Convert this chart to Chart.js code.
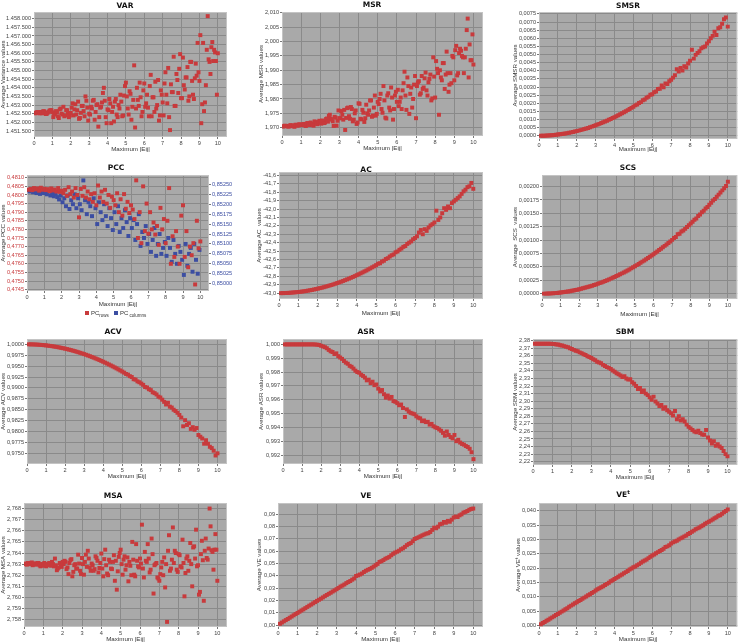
<!DOCTYPE html>
<html><head><meta charset="utf-8">
<script src="https://cdn.jsdelivr.net/npm/chart.js@4.4.0/dist/chart.umd.min.js"></script>
<style>
html,body{margin:0;padding:0;background:#fff;}
#wrap{position:relative;width:740px;height:644px;overflow:hidden;}
#wrap canvas{position:absolute;}
.ttl{position:absolute;font:bold 7.5px "DejaVu Sans";color:#111;white-space:nowrap;transform:translate(-50%,-50%);}
.ttl sup{font-size:5.5px;}
.lg{position:absolute;font:6px "Liberation Sans";color:#333;white-space:nowrap;line-height:8px;}
.lg i{display:inline-block;width:4px;height:4px;margin:0 2px 0 0;vertical-align:middle;}
.lg sub{font-size:4.5px;}
</style></head><body><div id="wrap"></div>
<script>
// ---------- X values (Maximum |Eij|) ----------
const maxE = [0.1,0.2,0.3,0.4,0.5,0.6,0.7,0.8,0.9,1.0,1.1,1.2,1.3,1.4,1.5,1.6,1.7,1.8,1.9,2.0,
2.1,2.2,2.3,2.4,2.5,2.6,2.7,2.8,2.9,3.0,3.1,3.2,3.3,3.4,3.5,3.6,3.7,3.8,3.9,4.0,
4.1,4.2,4.3,4.4,4.5,4.6,4.7,4.8,4.9,5.0,5.1,5.2,5.3,5.4,5.5,5.6,5.7,5.8,5.9,6.0,
6.1,6.2,6.3,6.4,6.5,6.6,6.7,6.8,6.9,7.0,7.1,7.2,7.3,7.4,7.5,7.6,7.7,7.8,7.9,8.0,
8.1,8.2,8.3,8.4,8.5,8.6,8.7,8.8,8.9,9.0,9.1,9.2,9.3,9.4,9.5,9.6,9.7,9.8,9.9,10.0];
const maxEB = [0.05,0.15,0.25,0.35,0.45,0.55,0.65,0.75,0.85,0.95,1.05,1.15,1.25,1.35,1.45,1.55,1.65,1.75,1.85,1.95,
2.05,2.15,2.25,2.35,2.45,2.55,2.65,2.75,2.85,2.95,3.05,3.15,3.25,3.35,3.45,3.55,3.65,3.75,3.85,3.95,
4.05,4.15,4.25,4.35,4.45,4.55,4.65,4.75,4.85,4.95,5.05,5.15,5.25,5.35,5.45,5.55,5.65,5.75,5.85,5.95,
6.05,6.15,6.25,6.35,6.45,6.55,6.65,6.75,6.85,6.95,7.05,7.15,7.25,7.35,7.45,7.55,7.65,7.75,7.85,7.95,
8.05,8.15,8.25,8.35,8.45,8.55,8.65,8.75,8.85,8.95,9.05,9.15,9.25,9.35,9.45,9.55,9.65,9.75,9.85,9.95];
const xTicks = [0,1,2,3,4,5,6,7,8,9,10];

// ---------- VAR ----------
const varA = [1452550,1452600,1452520,1452580,1452640,1452560,1452500,1452620,1452700,1452580,
1452450,1452650,1452350,1452750,1452500,1452900,1452400,1452700,1452300,1452550,
1453100,1452750,1452450,1453200,1452250,1452950,1452650,1453500,1452850,1452500,
1452900,1453250,1452150,1453000,1451750,1452850,1453150,1454000,1452300,1452750,
1453350,1451950,1452900,1453200,1452450,1453000,1453600,1452350,1453550,1454300,
1452800,1453800,1452150,1453300,1451700,1454000,1452950,1453450,1452600,1454250,
1453100,1452850,1454100,1452350,1453450,1454350,1453000,1452100,1453850,1453150,
1454250,1453600,1455150,1451550,1453750,1455800,1452950,1454450,1455100,1453400,
1455750,1453900,1454600,1453250,1455500,1454400,1453350,1455400,1456600,1454400,
1451950,1456600,1453150,1456200,1455650,1454800,1456650,1456200,1455550,1456000];
const varB = [1452520,1452580,1452560,1452600,1452520,1452640,1452480,1452560,1452680,1452700,
1452300,1452550,1452600,1452250,1452800,1452450,1452350,1452700,1452500,1452400,
1452850,1452400,1453050,1452700,1452200,1452550,1452950,1452350,1453250,1452100,
1452450,1452800,1453300,1452600,1453050,1452300,1452900,1453700,1453250,1451950,
1452700,1453100,1452600,1452050,1453350,1452300,1452800,1453200,1452400,1454100,
1453500,1452450,1453650,1452900,1455300,1452800,1453300,1454300,1452350,1453850,
1452900,1453600,1452350,1454750,1453450,1452600,1452800,1454450,1452400,1453600,
1452400,1454900,1453100,1452300,1454200,1453750,1452950,1454800,1453700,1455950,
1453400,1454150,1454600,1455200,1453500,1455500,1453600,1454550,1454700,1454900,
1457050,1453050,1452650,1454150,1458150,1455500,1456350,1455550,1456050,1453600];
const varTicks = [1451500,1452000,1452500,1453000,1453500,1454000,1454500,1455000,1455500,1456000,1456500,1457000,1457500,1458000];

// ---------- MSR ----------
const msrA = [1.9705,1.9706,1.9704,1.9707,1.9705,1.9708,1.9710,1.9707,1.9712,1.9709,
1.9712,1.9708,1.9715,1.9711,1.9718,1.9710,1.9722,1.9714,1.9720,1.9717,
1.9725,1.9716,1.9730,1.9721,1.9745,1.9728,1.9706,1.9735,1.9724,1.9733,
1.9758,1.9728,1.9692,1.9768,1.9740,1.9772,1.9722,1.9750,1.9713,1.9785,
1.9731,1.9762,1.9720,1.9780,1.9745,1.9795,1.9738,1.9770,1.9742,1.9790,
1.9800,1.9765,1.9845,1.9735,1.9812,1.9770,1.9840,1.9728,1.9812,1.9790,
1.9775,1.9805,1.9830,1.9895,1.9762,1.9845,1.9818,1.9770,1.9850,1.9733,
1.9858,1.9815,1.9880,1.9840,1.9892,1.9812,1.9870,1.9795,1.9945,1.9805,
1.9905,1.9745,1.9875,1.9925,1.9835,1.9965,1.9825,1.9890,1.9950,1.9865,
1.9985,1.9890,1.9975,1.9950,1.9890,1.9975,2.0080,1.9990,1.9935,1.9920];
const msrB = [1.9704,1.9707,1.9706,1.9704,1.9709,1.9706,1.9703,1.9710,1.9708,1.9711,
1.9709,1.9713,1.9706,1.9716,1.9709,1.9713,1.9707,1.9719,1.9712,1.9724,
1.9714,1.9722,1.9718,1.9732,1.9741,1.9731,1.9722,1.9738,1.9707,1.9760,
1.9733,1.9745,1.9762,1.9734,1.9770,1.9731,1.9765,1.9728,1.9760,1.9718,
1.9783,1.9729,1.9752,1.9733,1.9750,1.9760,1.9795,1.9742,1.9812,1.9748,
1.9782,1.9818,1.9752,1.9795,1.9732,1.9820,1.9760,1.9805,1.9765,1.9825,
1.9832,1.9790,1.9765,1.9855,1.9812,1.9875,1.9748,1.9840,1.9800,1.9880,
1.9845,1.9862,1.9820,1.9835,1.9872,1.9830,1.9858,1.9885,1.9802,1.9878,
1.9932,1.9890,1.9900,1.9865,1.9925,1.9885,1.9890,1.9850,1.9855,1.9945,
1.9970,1.9882,1.9960,1.9968,1.9945,1.9945,2.0040,1.9875,1.9935,2.0025];
const msrTicks = [1.970,1.975,1.980,1.985,1.990,1.995,2.000,2.005,2.010];

// ---------- SMSR ----------
const smsr = [0.000001,0.000003,0.000006,0.000011,0.000018,0.000026,0.000035,0.000046,0.000058,0.000072,
0.000087,0.000103,0.000121,0.000140,0.000161,0.000183,0.000207,0.000232,0.000258,0.000286,
0.000315,0.000346,0.000378,0.000412,0.000447,0.000483,0.000521,0.000561,0.000601,0.000644,
0.000687,0.000732,0.000779,0.000827,0.000876,0.000927,0.000979,0.001032,0.001088,0.001144,
0.001202,0.001261,0.001322,0.001384,0.001448,0.001513,0.001579,0.001647,0.001717,0.001788,
0.00187,0.00192,0.00202,0.00207,0.00218,0.00223,0.00234,0.00240,0.00252,0.00256,
0.00268,0.00272,0.00288,0.00290,0.00310,0.00298,0.00322,0.00318,0.00335,0.00345,
0.00358,0.00372,0.00410,0.00395,0.00418,0.00402,0.00428,0.00420,0.00445,0.00462,
0.00530,0.00475,0.00498,0.00510,0.00520,0.00538,0.00545,0.00550,0.00568,0.00582,
0.00600,0.00615,0.00640,0.00620,0.00662,0.00668,0.00690,0.00718,0.00728,0.00672];
const smsrTicks = [0,0.0005,0.001,0.0015,0.002,0.0025,0.003,0.0035,0.004,0.0045,0.005,0.0055,0.006,0.0065,0.007,0.0075];

// ---------- PCC ----------
const pccRows = [0.48030,0.48035,0.48028,0.48040,0.48032,0.48038,0.48025,0.48042,0.48030,0.48036,
0.48028,0.48034,0.48022,0.48038,0.48026,0.48032,0.48020,0.48040,0.48018,0.48025,
0.48010,0.48030,0.47995,0.48045,0.48005,0.48020,0.47985,0.48040,0.48000,0.47870,
0.48035,0.47995,0.48045,0.47985,0.48020,0.47975,0.48005,0.47960,0.48010,0.47940,
0.48055,0.47985,0.48020,0.47960,0.48030,0.47950,0.48000,0.47925,0.47990,0.47970,
0.47940,0.48010,0.47900,0.47975,0.47880,0.48005,0.47920,0.47960,0.47895,0.47940,
0.47915,0.47860,0.48085,0.47750,0.47900,0.47720,0.48050,0.47790,0.47950,0.47775,
0.47900,0.47800,0.47840,0.47770,0.47820,0.47710,0.47925,0.47800,0.47860,0.47720,
0.47850,0.48040,0.47600,0.47760,0.47640,0.47790,0.47700,0.47600,0.47880,0.47940,
0.47640,0.47790,0.47580,0.47700,0.47650,0.47720,0.47480,0.47850,0.47690,0.47730];
const pccCols = [0.85236,0.85232,0.85238,0.85230,0.85235,0.85228,0.85234,0.85226,0.85232,0.85228,
0.85230,0.85225,0.85232,0.85222,0.85228,0.85220,0.85226,0.85218,0.85212,0.85222,
0.85205,0.85215,0.85195,0.85222,0.85188,0.85210,0.85200,0.85225,0.85190,0.85215,
0.85200,0.85185,0.85260,0.85210,0.85175,0.85205,0.85195,0.85170,0.85215,0.85190,
0.85150,0.85205,0.85180,0.85160,0.85200,0.85170,0.85145,0.85190,0.85165,0.85135,
0.85180,0.85150,0.85195,0.85130,0.85165,0.85140,0.85185,0.85155,0.85120,0.85165,
0.85140,0.85160,0.85110,0.85150,0.85175,0.85095,0.85130,0.85115,0.85145,0.85100,
0.85125,0.85080,0.85110,0.85140,0.85070,0.85100,0.85125,0.85075,0.85090,0.85105,
0.85070,0.85115,0.85090,0.85055,0.85110,0.85075,0.85050,0.85095,0.85080,0.85060,
0.85022,0.85100,0.85045,0.85075,0.85090,0.85030,0.85100,0.85060,0.85025,0.85085];
const pccRowTicks = [0.4745,0.4750,0.4755,0.4760,0.4765,0.4770,0.4775,0.4780,0.4785,0.4790,0.4795,0.4800,0.4805,0.4810];
const pccColTicks = [0.85000,0.85025,0.85050,0.85075,0.85100,0.85125,0.85150,0.85175,0.85200,0.85225,0.85250];

// ---------- AC ----------
const ac = [-43.000,-43.000,-42.999,-42.998,-42.997,-42.995,-42.993,-42.991,-42.989,-42.987,
-42.984,-42.981,-42.978,-42.974,-42.970,-42.966,-42.962,-42.957,-42.952,-42.947,
-42.941,-42.936,-42.930,-42.923,-42.917,-42.910,-42.903,-42.896,-42.888,-42.880,
-42.872,-42.864,-42.855,-42.846,-42.837,-42.828,-42.818,-42.808,-42.798,-42.787,
-42.776,-42.765,-42.754,-42.742,-42.731,-42.718,-42.706,-42.693,-42.681,-42.667,
-42.650,-42.645,-42.625,-42.615,-42.595,-42.585,-42.565,-42.550,-42.540,-42.515,
-42.505,-42.485,-42.470,-42.450,-42.440,-42.415,-42.400,-42.385,-42.360,-42.345,
-42.325,-42.280,-42.250,-42.300,-42.240,-42.260,-42.220,-42.195,-42.180,-42.160,
-42.020,-42.130,-42.100,-42.050,-41.990,-42.010,-41.970,-41.990,-41.930,-41.910,
-41.890,-41.870,-41.850,-41.820,-41.790,-41.770,-41.740,-41.730,-41.690,-41.760];
const acTicks = [-43.0,-42.9,-42.8,-42.7,-42.6,-42.5,-42.4,-42.3,-42.2,-42.1,-42.0,-41.9,-41.8,-41.7,-41.6];

// ---------- SCS ----------
const scs = [0.0000002,0.0000008,0.0000018,0.0000033,0.0000051,0.0000074,0.0000100,0.0000131,0.0000166,0.0000205,
0.0000248,0.0000295,0.0000346,0.0000402,0.0000461,0.0000525,0.0000592,0.0000664,0.0000740,0.0000820,
0.0000904,0.0000992,0.0001084,0.0001181,0.0001281,0.0001386,0.0001494,0.0001607,0.0001724,0.0001845,
0.000197,0.000210,0.000223,0.000237,0.000251,0.000266,0.000281,0.000296,0.000312,0.000328,
0.000345,0.000362,0.000379,0.000397,0.000415,0.000434,0.000453,0.000472,0.000492,0.000513,
0.000533,0.000554,0.000576,0.000598,0.000620,0.000643,0.000666,0.000690,0.000714,0.000738,
0.000763,0.000788,0.000814,0.000840,0.000866,0.000893,0.000920,0.000948,0.000976,0.001005,
0.001040,0.001060,0.001110,0.001120,0.001160,0.001180,0.001210,0.001245,0.001280,0.001310,
0.001345,0.001380,0.001405,0.001450,0.001480,0.001520,0.001550,0.001590,0.001620,0.001660,
0.001700,0.001740,0.001770,0.001810,0.001850,0.001890,0.001930,0.001970,0.002010,0.002090];
const scsTicks = [0,0.00025,0.0005,0.00075,0.001,0.00125,0.0015,0.00175,0.002];

// ---------- ACV ----------
const acv = [1.00000,0.99999,0.99998,0.99996,0.99994,0.99991,0.99988,0.99984,0.99980,0.99975,
0.99970,0.99964,0.99958,0.99951,0.99944,0.99936,0.99928,0.99919,0.99910,0.99900,
0.99890,0.99879,0.99868,0.99856,0.99844,0.99831,0.99818,0.99804,0.99790,0.99775,
0.99760,0.99744,0.99728,0.99711,0.99694,0.99676,0.99658,0.99639,0.99620,0.99600,
0.99580,0.99559,0.99538,0.99516,0.99494,0.99471,0.99448,0.99424,0.99400,0.99375,
0.99350,0.99320,0.99305,0.99270,0.99250,0.99200,0.99190,0.99150,0.99130,0.99100,
0.99070,0.99020,0.99010,0.98970,0.98950,0.98900,0.98880,0.98850,0.98800,0.98780,
0.98730,0.98680,0.98620,0.98660,0.98570,0.98550,0.98500,0.98470,0.98430,0.98380,
0.98320,0.98120,0.98260,0.98150,0.98190,0.98060,0.98100,0.98040,0.98080,0.97920,
0.97880,0.97840,0.97720,0.97800,0.97720,0.97650,0.97620,0.97560,0.97450,0.97500];
const acvTicks = [0.9750,0.9775,0.9800,0.9825,0.9850,0.9875,0.9900,0.9925,0.9950,0.9975,1.0000];

// ---------- ASR ----------
const asr = [1.0000,1.0000,1.0000,1.0000,1.0000,1.0000,1.0000,1.0000,1.0000,1.0000,
1.0000,1.0000,1.0000,1.0000,1.0000,1.0000,0.99999,0.99998,0.99996,0.99990,
0.99985,0.99980,0.99972,0.99960,0.99950,0.99945,0.99930,0.99935,0.99915,0.99905,
0.99895,0.99880,0.99868,0.99860,0.99845,0.99838,0.99825,0.99810,0.99800,0.99795,
0.99780,0.99772,0.99760,0.99740,0.99745,0.99720,0.99730,0.99705,0.99710,0.99680,
0.99660,0.99670,0.99640,0.99615,0.99630,0.99608,0.99620,0.99590,0.99585,0.99575,
0.99560,0.99565,0.99540,0.99475,0.99530,0.99515,0.99505,0.99500,0.99495,0.99480,
0.99470,0.99465,0.99445,0.99450,0.99438,0.99440,0.99420,0.99425,0.99408,0.99400,
0.99395,0.99385,0.99375,0.99360,0.99340,0.99370,0.99345,0.99330,0.99320,0.99345,
0.99300,0.99310,0.99290,0.99280,0.99275,0.99265,0.99258,0.99245,0.99220,0.99170];
const asrTicks = [0.992,0.993,0.994,0.995,0.996,0.997,0.998,0.999,1.000];

// ---------- SBM ----------
const sbm = [2.3760,2.3760,2.3760,2.3760,2.3760,2.3760,2.3759,2.3759,2.3758,2.3757,
2.3755,2.3750,2.3748,2.3740,2.3735,2.3728,2.3720,2.3712,2.3700,2.3690,
2.3678,2.3668,2.3660,2.3645,2.3635,2.3620,2.3610,2.3595,2.3585,2.3570,
2.3555,2.3540,2.3520,2.3510,2.3500,2.3480,2.3465,2.3450,2.3440,2.3425,
2.3405,2.3390,2.3370,2.3355,2.3340,2.3320,2.3330,2.3300,2.3285,2.3290,
2.3250,2.3230,2.3200,2.3160,2.3175,2.3120,2.3140,2.3100,2.3080,2.3050,
2.3020,2.3060,2.2995,2.2970,2.2935,2.2950,2.2900,2.2920,2.2880,2.2860,
2.2840,2.2810,2.2870,2.2760,2.2800,2.2745,2.2760,2.2730,2.2690,2.2660,
2.2640,2.2620,2.2600,2.2590,2.2610,2.2580,2.2560,2.2555,2.2620,2.2520,
2.2480,2.2440,2.2470,2.2410,2.2430,2.2400,2.2380,2.2340,2.2300,2.2270];
const sbmTicks = [2.22,2.23,2.24,2.25,2.26,2.27,2.28,2.29,2.30,2.31,2.32,2.33,2.34,2.35,2.36,2.37,2.38];

// ---------- MSA ----------
const msaA = [2.76305,2.76310,2.76300,2.76315,2.76305,2.76295,2.76310,2.76290,2.76300,2.76285,
2.76300,2.76290,2.76310,2.76285,2.76300,2.76350,2.76245,2.76270,2.76290,2.76320,
2.76330,2.76255,2.76210,2.76335,2.76190,2.76290,2.76260,2.76385,2.76240,2.76355,
2.76205,2.76385,2.76420,2.76270,2.76305,2.76240,2.76370,2.76330,2.76265,2.76395,
2.76190,2.76430,2.76215,2.76340,2.76260,2.76320,2.76150,2.76070,2.76365,2.76430,
2.76205,2.76370,2.76290,2.76145,2.76285,2.76500,2.76205,2.76480,2.76280,2.76350,
2.76655,2.76180,2.76330,2.76480,2.76225,2.76530,2.76035,2.76300,2.76180,2.76150,
2.76270,2.76200,2.76090,2.75780,2.76560,2.76260,2.76630,2.76420,2.76250,2.76390,
2.76280,2.76520,2.76010,2.76350,2.76240,2.76490,2.76100,2.76460,2.76610,2.76290,
2.76050,2.76510,2.75970,2.76530,2.76340,2.76800,2.76425,2.76250,2.76570,2.76150];
const msaB = [2.76300,2.76295,2.76310,2.76300,2.76290,2.76305,2.76300,2.76310,2.76280,2.76300,
2.76310,2.76280,2.76300,2.76295,2.76320,2.76280,2.76290,2.76260,2.76310,2.76275,
2.76300,2.76320,2.76270,2.76310,2.76345,2.76230,2.76300,2.76260,2.76305,2.76210,
2.76300,2.76320,2.76275,2.76350,2.76240,2.76290,2.76255,2.76355,2.76225,2.76310,
2.76260,2.76345,2.76290,2.76200,2.76320,2.76255,2.76380,2.76330,2.76235,2.76400,
2.76300,2.76340,2.76250,2.76360,2.76320,2.76200,2.76340,2.76190,2.76330,2.76270,
2.76305,2.76260,2.76410,2.76320,2.76350,2.76250,2.76390,2.76290,2.76310,2.76170,
2.76210,2.76320,2.76360,2.76300,2.76420,2.76240,2.76340,2.76310,2.76400,2.76230,
2.76380,2.76270,2.76310,2.76220,2.76370,2.76330,2.76300,2.76450,2.76350,2.76280,
2.76025,2.76390,2.76335,2.76420,2.76355,2.76440,2.76640,2.76410,2.76430,2.76430];
const msaTicks = [2.758,2.759,2.760,2.761,2.762,2.763,2.764,2.765,2.766,2.767,2.768];

// ---------- VE ----------
const ve = [0.0010,0.0020,0.0030,0.0040,0.0049,0.0059,0.0069,0.0079,0.0089,0.0098,
0.0108,0.0118,0.0127,0.0137,0.0147,0.0157,0.0166,0.0176,0.0186,0.0196,
0.0205,0.0214,0.0224,0.0234,0.0244,0.0253,0.0262,0.0272,0.0281,0.0291,
0.0301,0.0312,0.0320,0.0329,0.0340,0.0349,0.0357,0.0368,0.0378,0.0398,
0.0403,0.0410,0.0418,0.0430,0.0440,0.0448,0.0455,0.0464,0.0474,0.0485,
0.0496,0.0512,0.0518,0.0527,0.0538,0.0545,0.0553,0.0566,0.0578,0.0588,
0.0595,0.0603,0.0615,0.0622,0.0634,0.0648,0.0658,0.0665,0.0680,0.0698,
0.0705,0.0712,0.0720,0.0728,0.0735,0.0742,0.0745,0.0755,0.0772,0.0790,
0.0785,0.0798,0.0818,0.0822,0.0836,0.0830,0.0845,0.0838,0.0855,0.0872,
0.0880,0.0876,0.0890,0.0898,0.0912,0.0918,0.0925,0.0935,0.0942,0.0945];
const veTicks = [0,0.01,0.02,0.03,0.04,0.05,0.06,0.07,0.08,0.09];

// ---------- VE^t ----------
const vet = [0.0004,0.0008,0.0012,0.0016,0.0020,0.0024,0.0028,0.0032,0.0036,0.0040,
0.0044,0.0048,0.0052,0.0056,0.0060,0.0065,0.0069,0.0073,0.0077,0.0081,
0.0085,0.0089,0.0093,0.0097,0.0101,0.0105,0.0109,0.0113,0.0117,0.0122,
0.0126,0.0130,0.0133,0.0137,0.0141,0.0145,0.0149,0.0154,0.0158,0.0162,
0.0166,0.0170,0.0174,0.0178,0.0182,0.0186,0.0190,0.0195,0.0199,0.0203,
0.0206,0.0210,0.0214,0.0219,0.0223,0.0227,0.0230,0.0235,0.0240,0.0244,
0.0248,0.0252,0.0256,0.0260,0.0263,0.0268,0.0274,0.0276,0.0280,0.0286,
0.0290,0.0293,0.0296,0.0300,0.0304,0.0307,0.0311,0.0314,0.0319,0.0323,
0.0327,0.0331,0.0336,0.0339,0.0342,0.0346,0.0350,0.0355,0.0359,0.0362,
0.0366,0.0370,0.0374,0.0378,0.0383,0.0385,0.0390,0.0395,0.0400,0.0405];
const vetTicks = [0,0.005,0.010,0.015,0.020,0.025,0.030,0.035,0.040];

// ---------- styling ----------
const RED = '#c83a3c', BLUE = '#3c4ea2';
const BG = '#a9a9a9', GRID = '#8a8a8a', OUTLINE = '#c4c4c4';
const TICKF = 'Liberation Sans', TICKS = 5.6;
const AXF = 'Liberation Sans', AXS = 6.2;

function fmtDec(dec){ return v => Number(v).toFixed(dec).replace('.', ','); }
function fmtThousands(v){ return String(Math.round(v)).replace(/\B(?=(\d{3})+(?!\d))/g, '.'); }

const panels = [
 {title:'VAR', tx:125, ty:5, canvas:[0,0,245,158], plot:[34,12,227,137], xTY:149.5, yTX:3.5,
  yTitle:'Average Variance values', ymin:1451150, ymax:1458390, ticks:varTicks, fmt:fmtThousands,
  series:[{x:maxE,y:varA,c:RED},{x:maxEB,y:varB,c:RED}]},
 {title:'MSR', tx:372, ty:4, canvas:[245,0,490,158], plot:[282,12,483,136], xTY:148, yTX:261.5,
  yTitle:'Average MSR values', ymin:1.9671, ymax:2.0103, ticks:msrTicks, fmt:fmtDec(3),
  series:[{x:maxE,y:msrA,c:RED},{x:maxEB,y:msrB,c:RED}]},
 {title:'SMSR', tx:628, ty:4.5, canvas:[490,0,740,158], plot:[539,12,738,139], xTY:149, yTX:515,
  yTitle:'Average SMSR values', ymin:-0.0002, ymax:0.00762, ticks:smsrTicks, fmt:fmtDec(4),
  series:[{x:maxE,y:smsr,c:RED}]},
 {title:'PCC', tx:116, ty:167, canvas:[0,160,245,320], plot:[27,175,209,291], xTY:304, yTX:3,
  yTitle:'Average PCC values', ymin:0.47442, ymax:0.48116, ticks:pccRowTicks, fmt:fmtDec(4), yColor:RED,
  y2:{min:0.849815, max:0.852736, ticks:pccColTicks, fmt:fmtDec(5), color:BLUE},
  series:[{x:maxE,y:pccRows,c:RED},{x:maxEB,y:pccCols,c:BLUE,axis:'y2'}]},
 {title:'AC', tx:366, ty:169, canvas:[245,160,490,320], plot:[279,172,483,299], xTY:313, yTX:259,
  yTitle:'Average AC  values', ymin:-43.07, ymax:-41.56, ticks:acTicks, fmt:fmtDec(1),
  series:[{x:maxE,y:ac,c:RED}]},
 {title:'SCS', tx:628, ty:167, canvas:[490,160,740,320], plot:[542,175,738,299], xTY:314, yTX:515,
  yTitle:'Average  SCS  values', ymin:-0.0001, ymax:0.002217, ticks:scsTicks, fmt:fmtDec(5),
  series:[{x:maxE,y:scs,c:RED}]},
 {title:'ACV', tx:113, ty:331, canvas:[0,320,245,482], plot:[27,339,227,464], xTY:476, yTX:3,
  yTitle:'Average ACV values', ymin:0.97255, ymax:1.00122, ticks:acvTicks, fmt:fmtDec(4),
  series:[{x:maxE,y:acv,c:RED}]},
 {title:'ASR', tx:366, ty:331, canvas:[245,320,490,482], plot:[283,339,483,464], xTY:476, yTX:261.5,
  yTitle:'Average ASR values', ymin:0.99135, ymax:1.00039, ticks:asrTicks, fmt:fmtDec(3),
  series:[{x:maxE,y:asr,c:RED}]},
 {title:'SBM', tx:625, ty:331, canvas:[490,320,740,482], plot:[533,339,738,465], xTY:477, yTX:515,
  yTitle:'Average SBM values', ymin:2.2156, ymax:2.3822, ticks:sbmTicks, fmt:fmtDec(2),
  series:[{x:maxE,y:sbm,c:RED}]},
 {title:'MSA', tx:113, ty:495, canvas:[0,482,245,644], plot:[24,503,227,627], xTY:639, yTX:3,
  yTitle:'Average MSA values', ymin:2.75734, ymax:2.7685, ticks:msaTicks, fmt:fmtDec(3),
  series:[{x:maxE,y:msaA,c:RED},{x:maxEB,y:msaB,c:RED}]},
 {title:'VE', tx:366, ty:495, canvas:[245,482,490,644], plot:[278,503,483,627], xTY:639, yTX:259,
  yTitle:'Average VE values', ymin:-0.0016, ymax:0.0990, ticks:veTicks, fmt:fmtDec(2),
  series:[{x:maxE,y:ve,c:RED}]},
 {title:'VE<sup>t</sup>', tx:623, ty:494, canvas:[490,482,740,644], plot:[539,503,738,627], xTY:639, yTX:518,
  yTitle:'Average VE\u1D57 values', ymin:-0.00057, ymax:0.04276, ticks:vetTicks, fmt:fmtDec(3),
  series:[{x:maxE,y:vet,c:RED}]}
];

const plotBg = {
  id:'plotBg',
  beforeDraw(ch){ const a=ch.chartArea, c=ch.ctx; c.save(); c.fillStyle=BG; c.fillRect(a.left,a.top,a.right-a.left,a.bottom-a.top); c.restore(); },
  beforeDatasetsDraw(ch){ const a=ch.chartArea, c=ch.ctx; c.save(); c.strokeStyle=OUTLINE; c.lineWidth=1; c.strokeRect(a.left+0.5,a.top+0.5,a.right-a.left-1,a.bottom-a.top-1); c.restore(); }
};

const wrap = document.getElementById('wrap');
panels.forEach(p => {
  const [cx0,cy0,cx1,cy1] = p.canvas;
  const [pl,pt,pr,pb] = p.plot;
  const cv = document.createElement('canvas');
  cv.width = cx1-cx0; cv.height = cy1-cy0;
  cv.style.left = cx0+'px'; cv.style.top = cy0+'px';
  cv.style.width = (cx1-cx0)+'px'; cv.style.height = (cy1-cy0)+'px';
  wrap.appendChild(cv);
  const lh = AXS*1.2;
  const padLeft = Math.max(0, p.yTX - lh/2 - cx0);
  const yW = pl - cx0 - padLeft;
  const xH = p.xTY + lh/2 - pb;
  const padBottom = Math.max(0, cy1 - pb - xH);
  const padTop = pt - cy0;
  const padRight = p.y2 ? 0 : cx1 - pr;

  const t = document.createElement('div');
  t.className = 'ttl'; t.innerHTML = p.title; t.style.left = p.tx+'px'; t.style.top = p.ty+'px';
  wrap.appendChild(t);

  const datasets = p.series.map(s => ({
    data: s.x.map((x,i) => ({x:x, y:s.y[i]})),
    yAxisID: s.axis || 'y',
    backgroundColor: s.c, borderWidth: 0, pointStyle:'rect',
    pointRadius: 2.8, pointHoverRadius: 2.8, showLine:false
  }));
  const tickFont = {family:TICKF, size:TICKS};
  const scales = {
    x: {type:'linear', min:0, max:10.5,
      afterBuildTicks: s => { s.ticks = xTicks.map(v => ({value:v})); },
      afterFit: s => { s.height = xH; },
      ticks:{font:tickFont, color:'#444', padding:1, maxRotation:0, autoSkip:false, callback: v => String(v)},
      grid:{color:GRID, lineWidth:1, tickLength:2, drawTicks:true, tickColor:'#777'},
      border:{display:false},
      title:{display:true, text:'Maximum |Eij|', font:{family:AXF, size:AXS}, color:'#333', padding:0}},
    y: {type:'linear', position:'left', min:p.ymin, max:p.ymax,
      afterBuildTicks: s => { s.ticks = p.ticks.map(v => ({value:v})); },
      afterFit: s => { s.width = yW; },
      ticks:{font:tickFont, color:p.yColor || '#444', padding:1, autoSkip:false, callback: v => p.fmt(v)},
      grid:{color:GRID, lineWidth:1, tickLength:2, drawTicks:true, tickColor:'#777'},
      border:{display:false},
      title:{display:true, text:p.yTitle, font:{family:AXF, size:AXS}, color:'#333', padding:0}}
  };
  if (p.y2) {
    const y2W = cx1 - pr;
    scales.y2 = {type:'linear', position:'right', min:p.y2.min, max:p.y2.max,
      afterBuildTicks: s => { s.ticks = p.y2.ticks.map(v => ({value:v})); },
      afterFit: s => { s.width = y2W; },
      ticks:{font:tickFont, color:p.y2.color, padding:1, autoSkip:false, callback: v => p.y2.fmt(v)},
      grid:{display:true, drawOnChartArea:false, tickLength:2, tickColor:'#777'},
      border:{display:false}};
  }
  new Chart(cv, {
    type:'scatter',
    data:{datasets},
    options:{
      responsive:false, animation:false, devicePixelRatio:1,
      layout:{padding:{left:padLeft, top:padTop, right:padRight, bottom:padBottom}},
      plugins:{legend:{display:false}, tooltip:{enabled:false}, title:{display:false}},
      scales
    },
    plugins:[plotBg]
  });
});

// PCC legend
const lg = document.createElement('div');
lg.className = 'lg';
lg.style.left = '85px'; lg.style.top = '309px';
lg.innerHTML = '<i style="background:'+RED+'"></i>PC<sub>rows</sub>&nbsp;&nbsp;&nbsp;<i style="background:'+BLUE+'"></i>PC<sub> columns</sub>';
wrap.appendChild(lg);
</script></body></html>
